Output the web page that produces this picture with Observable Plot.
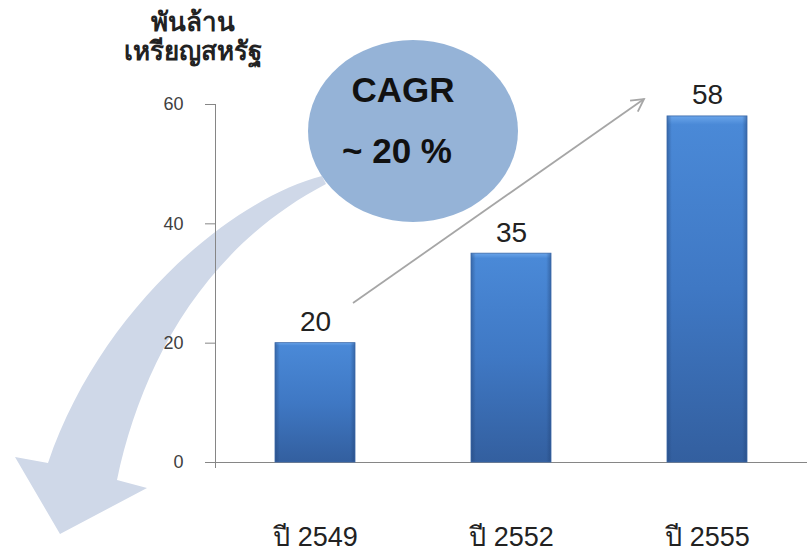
<!DOCTYPE html>
<html><head><meta charset="utf-8">
<script src="https://cdn.jsdelivr.net/npm/d3@7"></script>
<script src="https://cdn.jsdelivr.net/npm/@observablehq/plot@0.6"></script>
<style>body{margin:0;background:#fff} svg{display:block}</style>
</head><body><div id="chart"></div>
<script>
const years = ["ปี 2549", "ปี 2552", "ปี 2555"];
const values = [20, 35, 58];
const yTicks = [0, 20, 40, 60];
const unitLabel = "พันล้าน\nเหรียญสหรัฐ";
const cagrLines = ["CAGR", "~ 20 %"];

const data = years.map((year, i) => ({year, value: values[i]}));
const fontFam = "Tahoma, 'Liberation Sans', Arial, sans-serif";

const chart = Plot.plot({
  width: 807, height: 551,
  marginLeft: 215, marginRight: 0, marginTop: 104, marginBottom: 89,
  style: {fontFamily: fontFam, background: "#fff", overflow: "visible"},
  x: {domain: years, paddingInner: 0.594, paddingOuter: 0.3, align: 0.5},
  y: {domain: [0, 60]},
  marks: [
    Plot.frame({anchor: "left", stroke: "#868686"}),
    Plot.ruleY([0], {stroke: "#868686"}),
    Plot.axisY({ticks: yTicks, tickSize: 10, tickPadding: 22, fontSize: 18, stroke: "#868686", fill: "#404040", label: null}),
    Plot.axisX({tickSize: 0, tickPadding: 64, fontSize: 27, fill: "#222", label: null}),
    Plot.barY(data, {x: "year", y: "value", fill: "url(#barGrad)"}),
    Plot.barY(data, {x: "year", y: "value", fill: "url(#barSide)", stroke: "#3a68a8", strokeWidth: 0.8}),
    Plot.text(data, {x: "year", y: "value", text: d => String(d.value), dy: -21, fontSize: 28, fill: "#222"}),
    Plot.text([unitLabel], {frameAnchor: "top-left", text: d => d, dx: -23, dy: -68, textAnchor: "middle", lineAnchor: "middle", fontSize: 26, fontWeight: "bold", lineHeight: 1.1, fill: "#222"})
  ]
});
document.getElementById("chart").appendChild(chart);

const svg = d3.select(chart);
const defs = svg.insert("defs", ":first-child");
const g1 = defs.append("linearGradient").attr("id", "barGrad").attr("x1", 0).attr("y1", 0).attr("x2", 0).attr("y2", 1);
[[0, "#6aa5ea"], [0.025, "#4a89d7"], [0.5, "#3f78c4"], [1, "#335f9f"]].forEach(([o, c]) => g1.append("stop").attr("offset", o).attr("stop-color", c));
const g2 = defs.append("linearGradient").attr("id", "barSide").attr("x1", 0).attr("y1", 0).attr("x2", 1).attr("y2", 0);
[[0, "#1f3f70", 0.45], [0.06, "#1f3f70", 0.0], [0.94, "#1f3f70", 0.0], [1, "#1f3f70", 0.45]].forEach(([o, c, a]) => g2.append("stop").attr("offset", o).attr("stop-color", c).attr("stop-opacity", a));

// background decoration: curved arrow (behind everything)
const back = svg.insert("g", "defs + *");
back.append("path")
  .attr("d", "M322,176 C230,200 100,310 48,463 L15,457 L60,534 L147,488 L117,480 C140,370 200,250 326,184 Z")
  .attr("fill", "#cfd8e8");

// small axis extension below the baseline
svg.append("line").attr("x1", 215.5).attr("x2", 215.5).attr("y1", 462).attr("y2", 468).attr("stroke", "#868686");

// foreground decoration: ellipse with CAGR text and straight arrow
const front = svg.append("g");
front.append("ellipse").attr("cx", 413).attr("cy", 131).attr("rx", 105).attr("ry", 91).attr("fill", "#95b3d7");
front.append("text").attr("x", 403).attr("y", 90).attr("dy", "0.35em").attr("text-anchor", "middle")
  .attr("font-family", "'Liberation Sans', Arial, sans-serif").attr("font-weight", "bold").attr("font-size", 35).attr("fill", "#111").text(cagrLines[0]);
front.append("text").attr("x", 397).attr("y", 151).attr("dy", "0.35em").attr("text-anchor", "middle")
  .attr("font-family", "'Liberation Sans', Arial, sans-serif").attr("font-weight", "bold").attr("font-size", 35).attr("fill", "#111").text(cagrLines[1]);

const x0 = 353, y0 = 303, x1 = 644, y1 = 99;
const ang = Math.atan2(y1 - y0, x1 - x0), L = 14, spread = 0.5;
front.append("line").attr("x1", x0).attr("y1", y0).attr("x2", x1).attr("y2", y1).attr("stroke", "#a6a6a6").attr("stroke-width", 1.8);
front.append("path")
  .attr("d", `M${x1 - L * Math.cos(ang - spread)},${y1 - L * Math.sin(ang - spread)} L${x1},${y1} L${x1 - L * Math.cos(ang + spread)},${y1 - L * Math.sin(ang + spread)}`)
  .attr("fill", "none").attr("stroke", "#a6a6a6").attr("stroke-width", 1.8);
</script>
</body></html>
